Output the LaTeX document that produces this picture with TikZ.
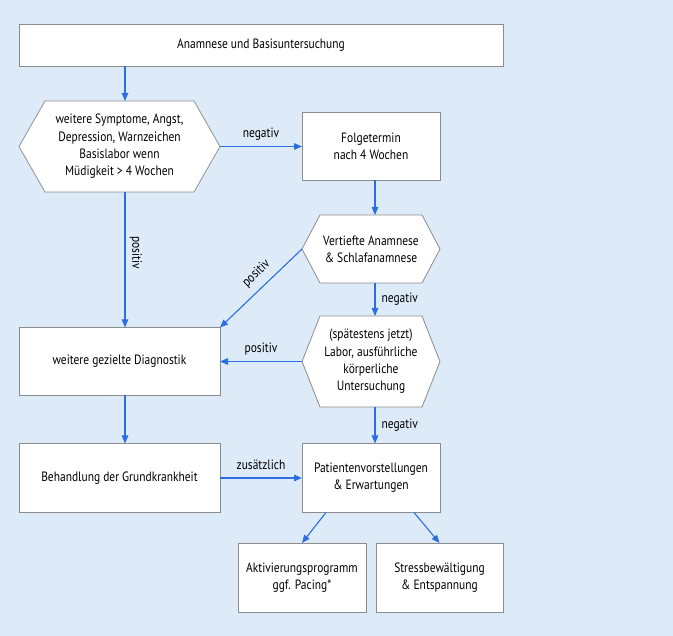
\documentclass[tikz,border=0pt]{standalone}
\usepackage{fontspec}
\setmainfont{PT Sans}[FakeStretch=0.85]
\usetikzlibrary{arrows.meta}
\definecolor{bgblue}{RGB}{221,234,248}
\definecolor{arrblue}{RGB}{45,110,225}
\definecolor{boxgray}{RGB}{140,140,140}
\pgfdeclarelayer{bgfill}
\pgfdeclarelayer{hexlayer}
\pgfsetlayers{bgfill,hexlayer,main}
\begin{document}
\begin{tikzpicture}[x=1pt,y=-1pt,
  font=\fontsize{13.5}{17.3}\selectfont,
  box/.style={draw=boxgray, line width=0.8pt, fill=white, inner sep=0pt, outer sep=0pt, align=center},
  hexnode/.style={inner sep=0pt, outer sep=0pt, align=center},
  arr/.style={draw=arrblue, line width=1.1pt, -{Triangle[length=8pt,width=6.5pt]}},
  lbl/.style={font=\fontsize{13.5}{15}\selectfont, inner sep=2pt}
]
\begin{pgfonlayer}{bgfill}
\fill[bgblue] (0,0) rectangle (673,636);
\end{pgfonlayer}
\useasboundingbox (0,0) rectangle (673,636);

\newcommand\hexdraw[2]{%
  \begin{pgfonlayer}{hexlayer}
  \draw[draw=boxgray, line width=0.8pt, fill=white]
    (#1.west) -- ([xshift=#2]#1.north west) -- ([xshift=-#2]#1.north east) --
    (#1.east) -- ([xshift=-#2]#1.south east) -- ([xshift=#2]#1.south west) -- cycle;
  \end{pgfonlayer}}

\node[box, minimum width=484, minimum height=42] (top) at (261,45) {Anamnese und Basisuntersuchung};

\node[hexnode, minimum width=201, minimum height=91] (h1) at (119.5,146.5)
  {weitere Symptome, Angst,\\Depression, Warnzeichen\\Basislabor wenn\\Müdigkeit > 4 Wochen};
\hexdraw{h1}{26}

\node[box, minimum width=138, minimum height=68] (folge) at (371,146.5) {Folgetermin\\nach 4 Wochen};

\node[hexnode, minimum width=138, minimum height=68] (h2) at (371,249) {Vertiefte Anamnese\\\& Schlafanamnese};
\hexdraw{h2}{18}

\node[box, minimum width=201, minimum height=68] (diag) at (119.5,361.5) {weitere gezielte Diagnostik};

\node[hexnode, minimum width=138, minimum height=91] (h3) at (371,361.5)
  {(spätestens jetzt)\\Labor, ausführliche\\körperliche\\Untersuchung};
\hexdraw{h3}{18}

\node[box, minimum width=201, minimum height=69] (beh) at (119.5,478) {Behandlung der Grundkrankheit};
\node[box, minimum width=138, minimum height=69] (pat) at (371,478) {Patientenvorstellungen\\\& Erwartungen};
\node[box, minimum width=128, minimum height=69] (akt) at (302,577.5) {Aktivierungsprogramm\\ggf. Pacing*};
\node[box, minimum width=127, minimum height=69] (stress) at (439.5,577.5) {Stressbewältigung\\\& Entspannung};

% connectors
\draw[arr] ([xshift=5.5]h1.north |- top.south) -- ([xshift=5.5]h1.north);
\draw[arr] (h1.east) -- node[lbl, above=4pt] {negativ} (folge.west);
\draw[arr] ([xshift=4]folge.south) -- ([xshift=4]h2.north);
\draw[arr] (h2.west) -- node[lbl, sloped, pos=0.44, above=5pt] {positiv} (diag.north east);
\draw[arr] ([xshift=4]h2.south) -- node[lbl, right=4pt] {negativ} ([xshift=4]h3.north);
\draw[arr] (h3.west) -- node[lbl, above=4pt] {positiv} (diag.east);
\draw[arr] ([xshift=5.5]h1.south) -- node[lbl, pos=0.45, rotate=-90, anchor=south, yshift=2pt] {positiv} ([xshift=5.5]diag.north);
\draw[arr] ([xshift=4]h3.south) -- node[lbl, right=4pt] {negativ} ([xshift=4]pat.north);
\draw[arr] ([xshift=5.5]diag.south) -- ([xshift=5.5]beh.north);
\draw[arr] (beh.east) -- node[lbl, above=6pt] {zusätzlich} (pat.west);
\draw[arr] ([xshift=24]pat.south west) -- (akt.north);
\draw[arr] ([xshift=-26]pat.south east) -- (stress.north);
\end{tikzpicture}
\end{document}
